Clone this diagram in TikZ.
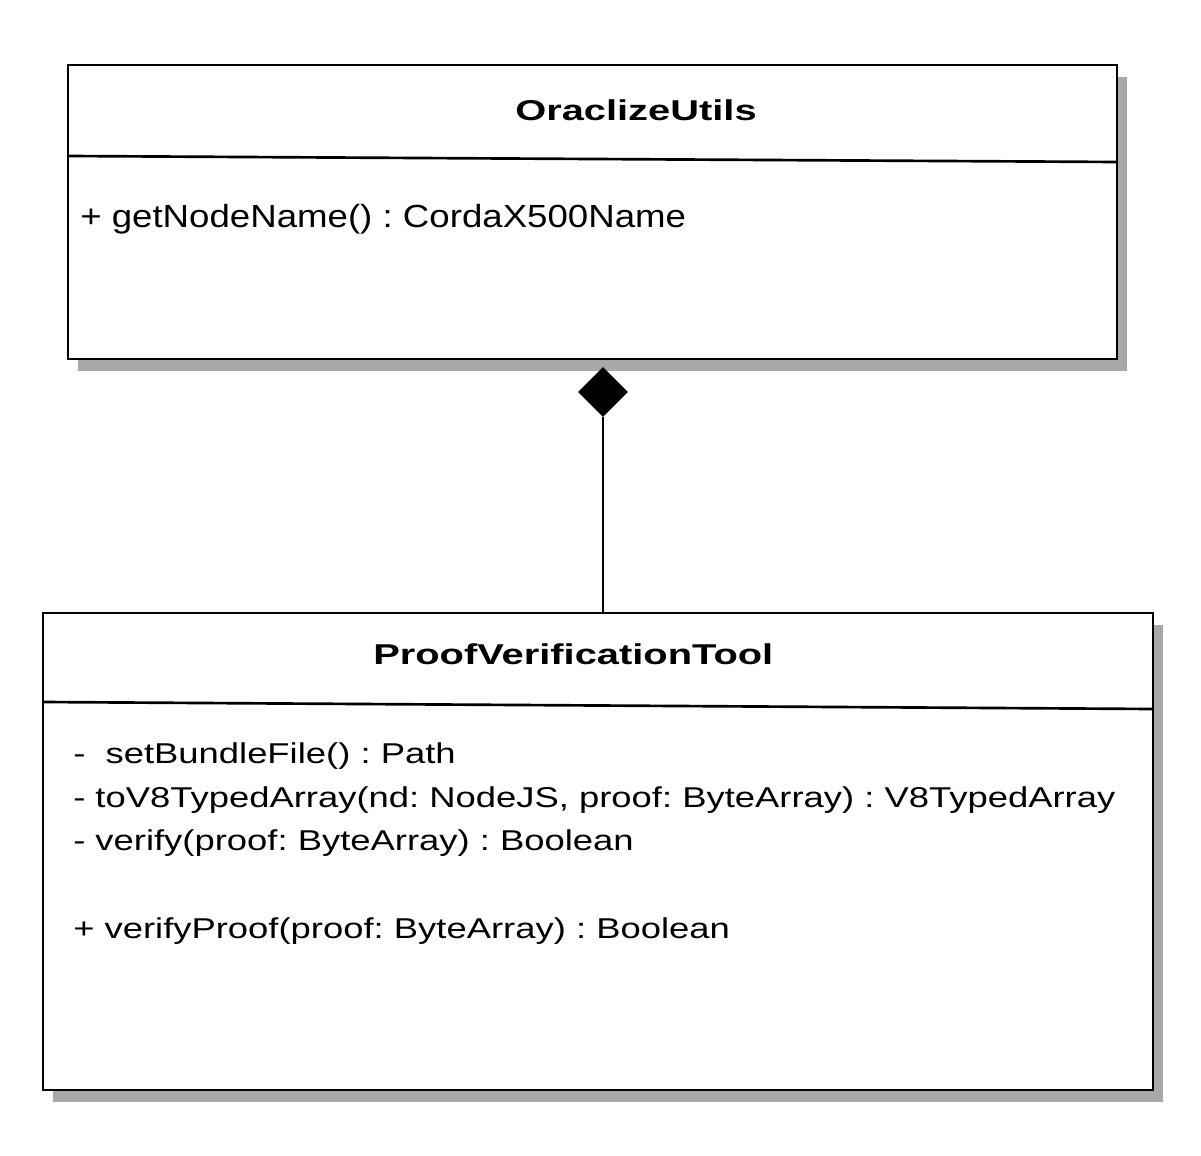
\documentclass[tikz,border=0pt]{standalone}
\usepackage{fontspec}
\setmainfont{Liberation Sans}
\usepackage{graphicx}
\usepackage{xcolor}
\usepackage{tikz}
\usetikzlibrary{
  positioning,
  calc,
  fit,
  shadows,
  shapes.geometric
}
\definecolor{umlshadow}{RGB}{167,168,171}
\tikzset{
  umlbox/.style={draw,line width=2pt,fill=white,inner sep=0pt,
    drop shadow={shadow xshift=7.5pt,shadow yshift=-9pt,fill=umlshadow,opacity=1}},
  umlline/.style={line width=2pt},
  classname/.style={anchor=base west,inner sep=0pt,font=\bfseries\fontsize{21.5}{25}\selectfont},
  member/.style={anchor=base west,inner sep=0pt,font=\fontsize{21.5}{25}\selectfont},
  bigmember/.style={member,font=\fontsize{24}{28}\selectfont},
  composite/.style={diamond,fill=black,inner sep=0pt,minimum width=37.5pt,minimum height=37.5pt}
}
\newcommand{\widetext}[2]{\scalebox{#1}[1]{#2}}
\frenchspacing

\begin{document}
\begin{tikzpicture}[x=0.75pt,y=-0.75pt]
  \fill[white] (0,0) rectangle (1201,1155);
  \useasboundingbox (0,0) rectangle (1201,1155);
  % クラス OraclizeUtils
  \node[umlbox,fit={(68,65) (1117,359)}] (oracle) {};
  \draw[umlline] (68,156) -- (1117,162); %区切り線
  \node[classname] (oracleName) at (515,121) {\widetext{1.39}{OraclizeUtils}};
  \node[bigmember] (oracleOp) at (80,228) {\widetext{1.145}{+ getNodeName() : CordaX500Name}};
  % クラス ProofVerificationTool
  \node[umlbox,fit={(43,613) (1153,1090)}] (pvt) {};
  \draw[umlline] (43,702) -- (1153,709); %区切り線
  \node[classname] (pvtName) at (373,664) {\widetext{1.39}{ProofVerificationTool}};
  \node[member] (pvtOpA) at (73,763) {\widetext{1.27}{-\ \ setBundleFile() : Path}};
  \node[member] (pvtOpB) at (73,807) {\widetext{1.27}{- toV8TypedArray(nd: NodeJS, proof: ByteArray) : V8TypedArray}};
  \node[member] (pvtOpC) at (73,850) {\widetext{1.27}{- verify(proof: ByteArray) : Boolean}};
  \node[member] (pvtOpD) at (73,938) {\widetext{1.27}{+ verifyProof(proof: ByteArray) : Boolean}};
  % コンポジション
  \node[composite] (comp) at (603,392) {};
  \draw[umlline] (comp.south) -- (comp.south |- pvt.north);
\end{tikzpicture}
\end{document}
